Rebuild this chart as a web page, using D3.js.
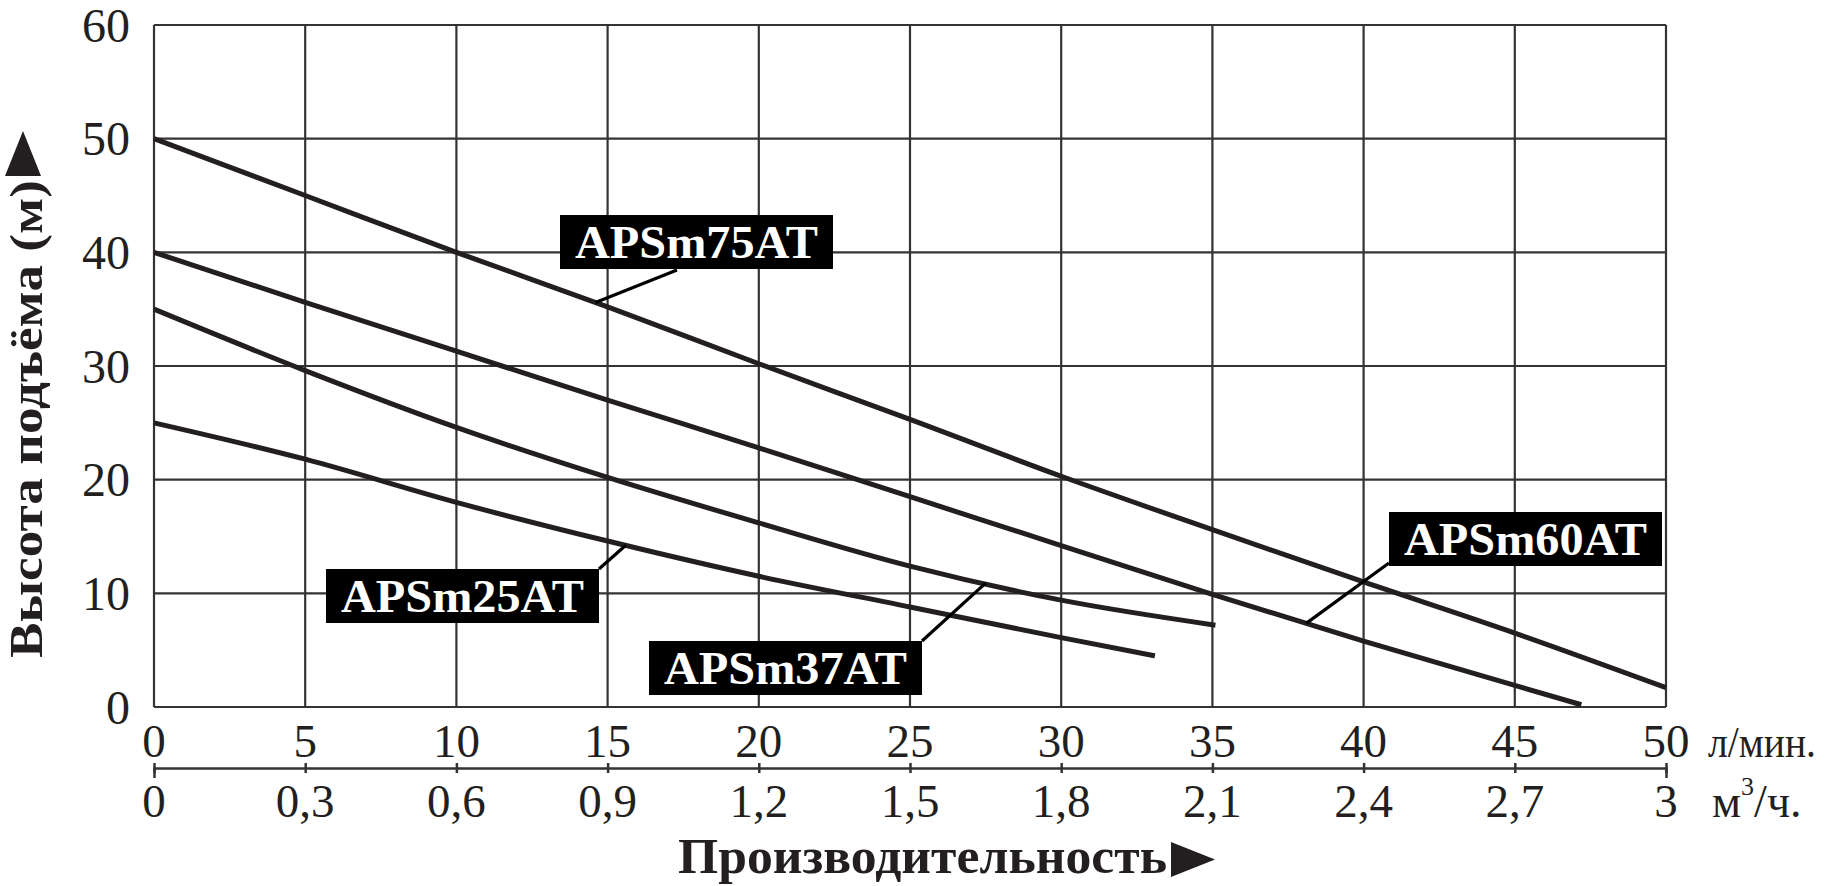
<!DOCTYPE html>
<html>
<head>
<meta charset="utf-8">
<script src="https://cdn.jsdelivr.net/npm/d3@7"></script>
<style>
  html, body { margin: 0; padding: 0; background: #fff; }
  svg { display: block; }
  text { font-family: "Liberation Serif", "Times New Roman", serif; fill: #231f20; }
</style>
</head>
<body>
<div id="chart"></div>
<script>
// pump curves: head (m) vs flow (l/min)
var flow75 = [0, 5, 10, 15, 20, 25, 30, 35, 40, 45, 50];
var head75 = [50, 45, 40, 35.2, 30.2, 25.3, 20.3, 15.6, 11, 6.5, 1.7];

var flow60 = [0, 5, 10, 15, 20, 25, 30, 35, 40, 45, 47.2];
var head60 = [40, 35.6, 31.3, 27, 22.8, 18.5, 14.2, 9.9, 5.8, 1.9, 0.2];

var flow37 = [0, 5, 10, 15, 20, 25, 30, 35.1];
var head37 = [35, 29.6, 24.6, 20.2, 16.2, 12.4, 9.4, 7.2];

var flow25 = [0, 5, 10, 15, 20, 25, 30, 33.1];
var head25 = [25, 21.8, 18, 14.6, 11.5, 8.8, 6.1, 4.5];

var models = ["APSm75AT", "APSm60AT", "APSm37AT", "APSm25AT"];

// axes
var flowTicks = [0, 5, 10, 15, 20, 25, 30, 35, 40, 45, 50];
var cubicLabels = ["0", "0,3", "0,6", "0,9", "1,2", "1,5", "1,8", "2,1", "2,4", "2,7", "3"];
var headTicks = [0, 10, 20, 30, 40, 50, 60];

var W = 1827, H = 886;
var margin = {top: 25, left: 154},
  width = 1512,
  height = 682;

var svg = d3.select("#chart").append("svg")
  .attr("width", W)
  .attr("height", H);

var g = svg.append("g")
  .attr("transform", "translate(" + margin.left + "," + margin.top + ")");

var x = d3.scaleLinear().domain([0, 50]).range([0, width]);
var y = d3.scaleLinear().domain([0, 60]).range([height, 0]);

// grid
g.selectAll("line.vgrid").data(flowTicks).enter()
  .append("line")
  .attr("class", "vgrid")
  .attr("x1", function(d) { return x(d); })
  .attr("x2", function(d) { return x(d); })
  .attr("y1", 0).attr("y2", height)
  .attr("stroke", "#333").attr("stroke-width", 2.2);

g.selectAll("line.hgrid").data(headTicks).enter()
  .append("line")
  .attr("class", "hgrid")
  .attr("y1", function(d) { return y(d); })
  .attr("y2", function(d) { return y(d); })
  .attr("x1", 0).attr("x2", width)
  .attr("stroke", "#333").attr("stroke-width", 2.2);

// y tick labels
g.selectAll("text.ylab").data(headTicks).enter()
  .append("text")
  .attr("class", "ylab")
  .attr("x", -24)
  .attr("y", function(d) { return y(d); })
  .attr("dy", "0.35em")
  .attr("text-anchor", "end")
  .attr("font-size", 48)
  .text(function(d) { return d; });

// l/min labels
g.selectAll("text.xlab").data(flowTicks).enter()
  .append("text")
  .attr("class", "xlab")
  .attr("x", function(d) { return x(d); })
  .attr("y", height + 50)
  .attr("text-anchor", "middle")
  .attr("font-size", 47)
  .text(function(d) { return d; });

// second axis (m3/h)
var axis2 = d3.axisBottom(x).tickValues(flowTicks).tickSize(10).tickFormat("");
var a2 = g.append("g")
  .attr("transform", "translate(0," + (height + 61) + ")")
  .call(axis2);
a2.select(".domain").attr("stroke", "#333").attr("stroke-width", 2.5);
a2.selectAll(".tick line").attr("y1", -5).attr("y2", 5)
  .attr("stroke", "#333").attr("stroke-width", 2.5);

g.selectAll("text.xlab2").data(flowTicks).enter()
  .append("text")
  .attr("class", "xlab2")
  .attr("x", function(d) { return x(d); })
  .attr("y", height + 110)
  .attr("text-anchor", "middle")
  .attr("font-size", 47)
  .text(function(d, i) { return cubicLabels[i]; });

// units
g.append("text")
  .attr("x", width + 42).attr("y", height + 50)
  .attr("font-size", 44)
  .attr("textLength", 108)
  .attr("lengthAdjust", "spacingAndGlyphs")
  .text("л/мин.");
var unit2 = g.append("text")
  .attr("x", width + 46).attr("y", height + 110)
  .attr("font-size", 46);
unit2.append("tspan").text("м");
unit2.append("tspan").attr("font-size", 26).attr("dy", -22).text("3");
unit2.append("tspan").attr("dy", 22).text("/ч.");

// axis titles
svg.append("text")
  .attr("x", 678).attr("y", 873)
  .attr("font-size", 51)
  .attr("font-weight", "bold")
  .attr("textLength", 489)
  .attr("lengthAdjust", "spacingAndGlyphs")
  .text("Производительность");
svg.append("path")
  .attr("d", "M1171,842 L1215,859.5 L1171,877 Z")
  .attr("fill", "#231f20");

svg.append("text")
  .attr("transform", "translate(42,658) rotate(-90)")
  .attr("font-size", 46)
  .attr("font-weight", "bold")
  .attr("textLength", 478)
  .attr("lengthAdjust", "spacingAndGlyphs")
  .text("Высота подъёма (м)");
svg.append("path")
  .attr("d", "M5,176 L23,131 L41,176 Z")
  .attr("fill", "#231f20");

// curves
var curves = [
  {name: models[0], flow: flow75, head: head75},
  {name: models[1], flow: flow60, head: head60},
  {name: models[2], flow: flow37, head: head37},
  {name: models[3], flow: flow25, head: head25}
];

var line = d3.line()
  .x(function(d) { return x(d[0]); })
  .y(function(d) { return y(d[1]); })
  .curve(d3.curveMonotoneX);

g.selectAll("path.curve").data(curves).enter()
  .append("path")
  .attr("class", "curve")
  .attr("d", function(c) { return line(d3.zip(c.flow, c.head)); })
  .attr("fill", "none")
  .attr("stroke", "#231f20")
  .attr("stroke-width", 5);

// head on a curve at a given flow (for the leader lines)
function headAt(c, f) {
  return d3.scaleLinear().domain(c.flow).range(c.head)(f);
}

// label boxes: box corner (px, page coords), where leader starts, flow the leader points to
var labels = [
  {c: curves[0], bx: 560, by: 215, lx: 677, ly: 270, f: 14.6},
  {c: curves[1], bx: 1389, by: 512, lx: 1389, ly: 563, f: 38.1},
  {c: curves[2], bx: 649, by: 641, lx: 922, ly: 641, f: 27.5},
  {c: curves[3], bx: 326, by: 569, lx: 599, ly: 569, f: 15.6}
];
var boxW = 273, boxH = 54;

var lab = svg.selectAll("g.label").data(labels).enter()
  .append("g").attr("class", "label");

lab.append("line")
  .attr("x1", function(d) { return d.lx; })
  .attr("y1", function(d) { return d.ly; })
  .attr("x2", function(d) { return margin.left + x(d.f); })
  .attr("y2", function(d) { return margin.top + y(headAt(d.c, d.f)); })
  .attr("stroke", "#000").attr("stroke-width", 3.2);

lab.append("rect")
  .attr("x", function(d) { return d.bx; })
  .attr("y", function(d) { return d.by; })
  .attr("width", boxW).attr("height", boxH)
  .attr("fill", "#000");

lab.append("text")
  .attr("x", function(d) { return d.bx + boxW / 2; })
  .attr("y", function(d) { return d.by + boxH / 2; })
  .attr("dy", "0.35em")
  .attr("text-anchor", "middle")
  .attr("font-size", 47)
  .attr("font-weight", "bold")
  .attr("textLength", 243)
  .attr("lengthAdjust", "spacingAndGlyphs")
  .style("fill", "#fff")
  .text(function(d) { return d.c.name; });
</script>
</body>
</html>
